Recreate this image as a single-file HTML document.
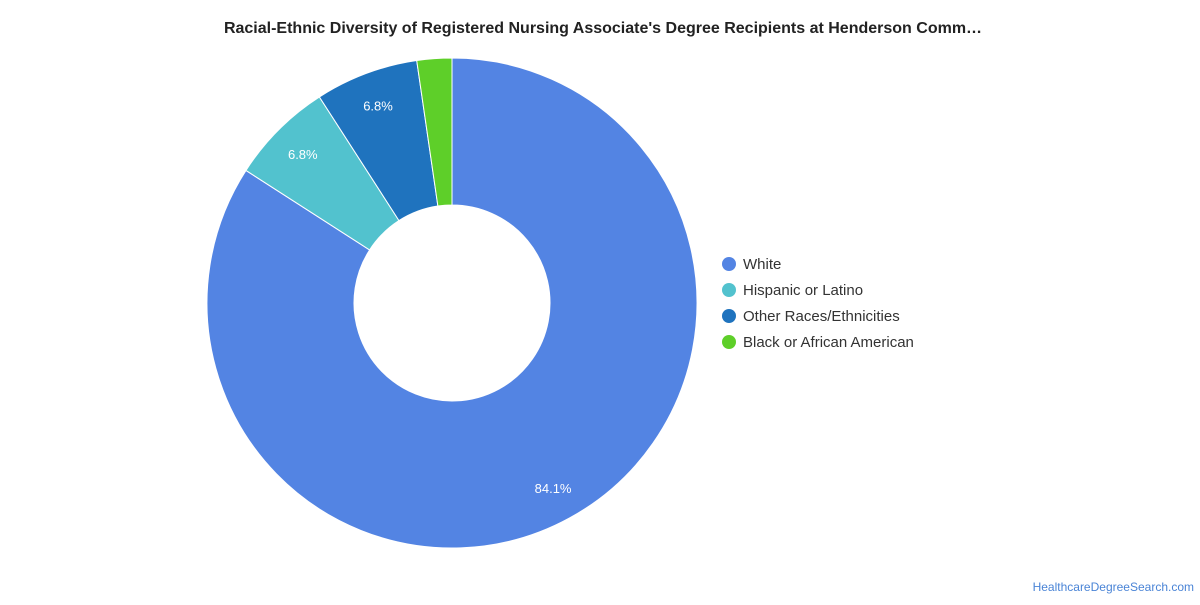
<!DOCTYPE html>
<html><head><meta charset="utf-8"><style>
body{margin:0;background:#fff;font-family:"Liberation Sans",sans-serif;}
svg text{font-family:"Liberation Sans",sans-serif;}
</style></head><body>
<svg id="chart" width="1200" height="600">
<text x="603" y="33" text-anchor="middle" font-size="16" font-weight="bold" fill="#222">Racial-Ethnic Diversity of Registered Nursing Associate's Degree Recipients at Henderson Comm…</text>
<g id="slices"></g>
<g id="labels"></g>
<g id="legend"></g>
<text x="1194" y="591" text-anchor="end" font-size="12" fill="#4a84d6">HealthcareDegreeSearch.com</text>
</svg>
<script>
const categories=["White","Hispanic or Latino","Other Races/Ethnicities","Black or African American"];
const values=[84.1,6.8,6.8,2.3];
const colors=["#5384e3","#52c2ce","#1f73be","#5ecf29"];
const cx=452,cy=303,R=245,r=98,LR=211;
const ns="http://www.w3.org/2000/svg";
const total=values.reduce((a,b)=>a+b,0);
const gS=document.getElementById('slices'),gL=document.getElementById('labels'),gG=document.getElementById('legend');
function pt(a,rad){return [cx+rad*Math.sin(a),cy-rad*Math.cos(a)];}
let acc=0;
values.forEach((v,i)=>{
 const a0=acc/total*2*Math.PI;acc+=v;const a1=acc/total*2*Math.PI;
 const large=(a1-a0)>Math.PI?1:0;
 const [x0,y0]=pt(a0,R),[x1,y1]=pt(a1,R),[x2,y2]=pt(a1,r),[x3,y3]=pt(a0,r);
 const p=document.createElementNS(ns,'path');
 p.setAttribute('d',`M${x0},${y0}A${R},${R} 0 ${large} 1 ${x1},${y1}L${x2},${y2}A${r},${r} 0 ${large} 0 ${x3},${y3}Z`);
 p.setAttribute('fill',colors[i]);p.setAttribute('stroke','#fff');p.setAttribute('stroke-width','1');
 
 
 gS.appendChild(p);
 if(v/total>0.05){
  const [lx,ly]=pt((a0+a1)/2,LR);
  const t=document.createElementNS(ns,'text');
  t.setAttribute('x',lx);t.setAttribute('y',ly+5);t.setAttribute('text-anchor','middle');
  t.setAttribute('font-size','13');t.setAttribute('fill','#fff');
  t.textContent=v.toFixed(1)+'%';
  
  
  gL.appendChild(t);
 }
 const c=document.createElementNS(ns,'circle');
 c.setAttribute('cx',729);c.setAttribute('cy',264+26*i);c.setAttribute('r',7);c.setAttribute('fill',colors[i]);
 
 
 gG.appendChild(c);
 const t2=document.createElementNS(ns,'text');
 t2.setAttribute('x',743);t2.setAttribute('y',269+26*i);t2.setAttribute('font-size','15');t2.setAttribute('fill','#333');
 t2.textContent=categories[i];
 
 
 gG.appendChild(t2);
});
</script>
</body></html>
